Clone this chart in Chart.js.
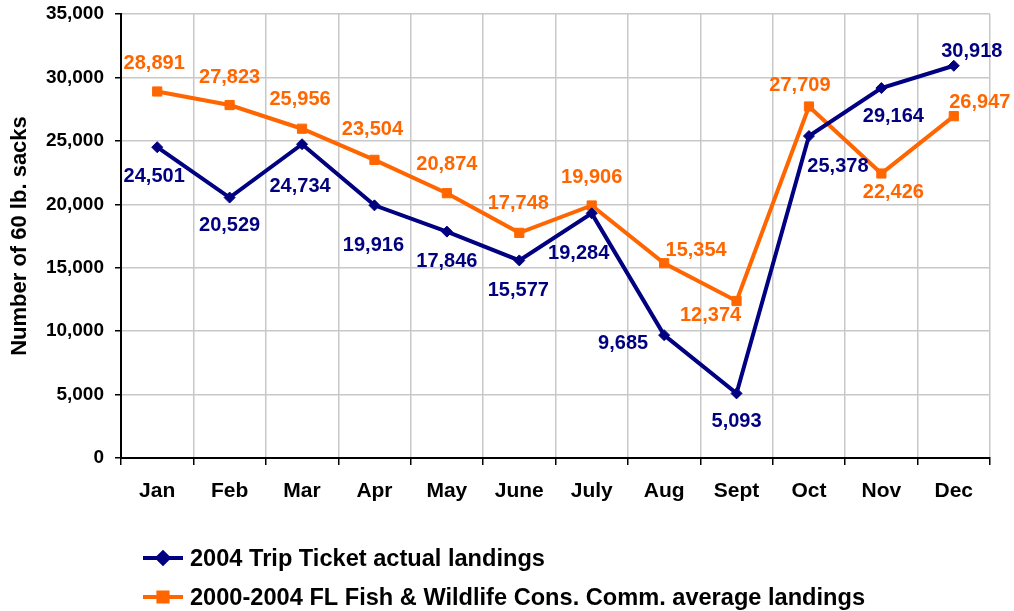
<!DOCTYPE html>
<html>
<head>
<meta charset="utf-8">
<script src="https://cdn.jsdelivr.net/npm/chart.js@4/dist/chart.umd.min.js"></script>
<style>
  html, body { margin: 0; padding: 0; background: #fff; }
  #wrap { width: 1014px; height: 611px; }
</style>
</head>
<body>
<div id="wrap"><canvas id="landingsChart" width="1014" height="611"></canvas></div>
<script>
const months = ['Jan', 'Feb', 'Mar', 'Apr', 'May', 'June', 'July', 'Aug', 'Sept', 'Oct', 'Nov', 'Dec'];
const tripTicket = [24501, 20529, 24734, 19916, 17846, 15577, 19284, 9685, 5093, 25378, 29164, 30918];
const fwcAverage = [28891, 27823, 25956, 23504, 20874, 17748, 19906, 15354, 12374, 27709, 22426, 26947];
const yTicks = [0, 5000, 10000, 15000, 20000, 25000, 30000, 35000];
const seriesNames = ['2004 Trip Ticket actual landings', '2000-2004 FL Fish & Wildlife Cons. Comm. average landings'];

// where each value label sits relative to its point
const tripLabelDx = [-3, 0, -2, -1, 0, -1, -13, -41, 0, 29, 12, 18];
const tripLabelDy = [29, 28, 42, 40, 30, 30, 40, 8, 28, 30, 28, -14];
const fwcLabelDx = [-3, 0, -2, -2, 0, -1, 0, 32, -26, -9, 12, 26];
const fwcLabelDy = [-28, -28, -29, -30, -29, -29, -28, -13, 14, -21, 19, -14];

const NAVY = '#000080';
const ORANGE = '#FF6600';
const FONT = "'Liberation Sans', Arial, sans-serif";

const valueLabels = {
    id: 'valueLabels',
    afterDatasetsDraw(chart) {
        const ctx = chart.ctx;
        const offsets = [[tripLabelDx, tripLabelDy], [fwcLabelDx, fwcLabelDy]];
        ctx.save();
        ctx.font = `bold 20px ${FONT}`;
        ctx.textAlign = 'center';
        ctx.textBaseline = 'middle';
        chart.data.datasets.forEach((ds, d) => {
            const meta = chart.getDatasetMeta(d);
            ctx.fillStyle = ds.borderColor;
            meta.data.forEach((pt, i) => {
                const txt = ds.data[i].toLocaleString('en-US');
                ctx.fillText(txt, pt.x + offsets[d][0][i], pt.y + offsets[d][1][i]);
            });
        });
        ctx.restore();
    }
};

const bottomLegend = {
    id: 'bottomLegend',
    afterDraw(chart) {
        const ctx = chart.ctx;
        const rows = [558, 597];
        ctx.save();
        chart.data.datasets.forEach((ds, d) => {
            const y = rows[d];
            ctx.strokeStyle = ds.borderColor;
            ctx.lineWidth = 4;
            ctx.beginPath();
            ctx.moveTo(143, y);
            ctx.lineTo(183, y);
            ctx.stroke();
            Chart.helpers.drawPoint(ctx, {
                pointStyle: ds.pointStyle,
                radius: ds.pointRadius,
                borderWidth: 1
            }, 163, y);
            ctx.fillStyle = ds.borderColor;
            ctx.fill();
            ctx.fillStyle = '#000';
            ctx.font = `bold 23.6px ${FONT}`;
            ctx.textAlign = 'left';
            ctx.textBaseline = 'middle';
            ctx.fillText(ds.label, 190, y + 1);
        });
        ctx.restore();
    }
};

new Chart(document.getElementById('landingsChart'), {
    type: 'line',
    data: {
        labels: months,
        datasets: [{
            label: seriesNames[0],
            data: tripTicket,
            borderColor: NAVY,
            backgroundColor: NAVY,
            borderWidth: 4,
            pointStyle: 'rectRot',
            pointRadius: 5.5,
            pointBorderWidth: 1,
            tension: 0
        }, {
            label: seriesNames[1],
            data: fwcAverage,
            borderColor: ORANGE,
            backgroundColor: ORANGE,
            borderWidth: 4,
            pointStyle: 'rect',
            pointRadius: 6.5,
            pointBorderWidth: 1,
            tension: 0
        }]
    },
    options: {
        responsive: false,
        animation: false,
        events: [],
        layout: { padding: { top: 14, right: 24, bottom: 103, left: 0 } },
        plugins: {
            legend: { display: false },
            tooltip: { enabled: false }
        },
        scales: {
            x: {
                offset: true,
                grid: { offset: true, color: '#c8c8c8', lineWidth: 1.5, tickColor: '#000', tickLength: 7 },
                border: { color: '#000', width: 2 },
                ticks: { color: '#000', font: { family: FONT, size: 21, weight: 'bold' }, padding: 14 },
                afterFit(scale) {
                    scale.height = 50;
                    scale.paddingLeft = 0;
                    scale.paddingRight = 0;
                }
            },
            y: {
                min: 0,
                max: 35000,
                afterBuildTicks(scale) { scale.ticks = yTicks.map(v => ({ value: v })); },
                grid: { color: '#c8c8c8', lineWidth: 1.5, tickColor: '#000', tickLength: 6 },
                border: { color: '#000', width: 2 },
                ticks: {
                    color: '#000',
                    font: { family: FONT, size: 19, weight: 'bold' },
                    padding: 11,
                    callback: v => v.toLocaleString('en-US')
                },
                title: {
                    display: true,
                    text: 'Number of 60 lb. sacks',
                    color: '#000',
                    font: { family: FONT, size: 22, weight: 'bold' },
                    padding: { top: 7, bottom: 0 }
                },
                afterFit(scale) {
                    scale.width = 121;
                    scale.paddingTop = 0;
                    scale.paddingBottom = 0;
                }
            }
        }
    },
    plugins: [valueLabels, bottomLegend]
});
</script>
</body>
</html>
